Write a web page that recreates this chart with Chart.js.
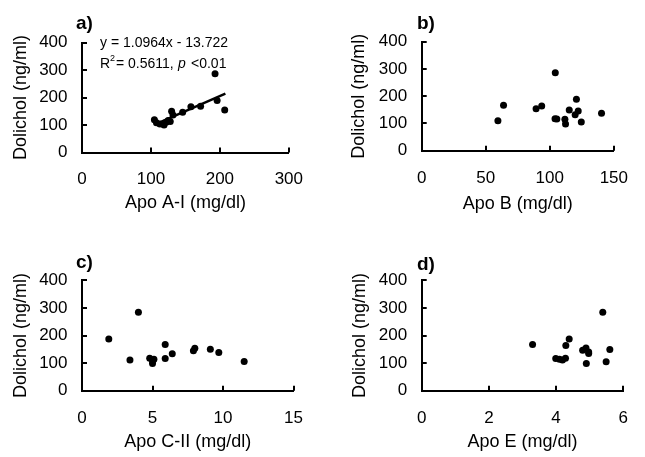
<!DOCTYPE html>
<html>
<head>
<meta charset="utf-8">
<script src="https://cdn.jsdelivr.net/npm/chart.js@4.4.0/dist/chart.umd.min.js"></script>
<style>
  body { margin: 0; background: #fff; }
  #wrap { position: relative; width: 645px; height: 457px; overflow: hidden; background: #fff; }
  canvas { position: absolute; }
</style>
</head>
<body>
<div id="wrap">
  <canvas id="pa" width="320" height="228" style="left:0px;top:0px"></canvas>
  <canvas id="pb" width="325" height="228" style="left:320px;top:0px"></canvas>
  <canvas id="pc" width="320" height="229" style="left:0px;top:228px"></canvas>
  <canvas id="pd" width="325" height="229" style="left:320px;top:228px"></canvas>
</div>
<script>
// values, one patient per index
const apoA1 = [105, 108, 113, 119, 122, 125, 128, 130, 132, 146, 158, 172, 193, 196, 207];
const dolA  = [119, 108, 104, 100, 110, 116, 113, 150, 136, 146, 166, 168, 286, 189, 155];
const trendX = [107, 208];
const trendY = [103, 214];

const apoB = [59.5, 63.9, 89.3, 93.7, 104.3, 104.1, 105.5, 111.8, 112.3, 115.2, 120.8, 122.2, 119.8, 124.6, 140.4];
const dolB = [110, 167, 154, 164, 286, 117, 116, 115, 98, 149, 189, 146, 132, 105, 137];

const apoC2 = [4.0, 1.9, 3.4, 4.8, 5.1, 5.0, 5.0, 5.9, 5.9, 6.4, 7.9, 8.0, 9.1, 9.7, 11.5];
const dolC  = [284, 187, 111, 118, 114, 99, 108, 167, 117, 134, 145, 154, 150, 138, 106];

const apoE = [5.39, 3.30, 4.39, 4.29, 3.99, 4.10, 4.19, 4.28, 4.79, 4.89, 4.97, 4.90, 5.60, 5.49, 4.97];
const dolE = [284, 167, 187, 164, 117, 114, 111, 118, 147, 155, 135, 99, 149, 105, 140];

const yTitle = 'Dolichol (ng/ml)';
const FONT = "'Liberation Sans', Arial, Helvetica, sans-serif";

// little inward tick marks on both axes
const inwardTicks = {
  id: 'inwardTicks',
  afterDraw(chart) {
    const { ctx, chartArea } = chart;
    const sx = chart.scales.x, sy = chart.scales.y;
    ctx.save();
    ctx.strokeStyle = '#000';
    ctx.lineWidth = 2;
    ctx.beginPath();
    sx.ticks.forEach(t => {
      if (t.value === sx.min) return;
      const px = Math.round(sx.getPixelForValue(t.value));
      ctx.moveTo(px, chartArea.bottom);
      ctx.lineTo(px, chartArea.bottom - 5);
    });
    sy.ticks.forEach(t => {
      if (t.value === sy.min) return;
      const py = Math.round(sy.getPixelForValue(t.value));
      ctx.moveTo(chartArea.left, py);
      ctx.lineTo(chartArea.left + 5, py);
    });
    ctx.stroke();
    ctx.restore();
  }
};

// panel letters and the equation text
const notes = {
  id: 'notes',
  afterDraw(chart, args, opts) {
    const ctx = chart.ctx;
    ctx.save();
    ctx.fillStyle = '#000';
    ctx.textBaseline = 'alphabetic';
    ctx.font = 'bold 19px ' + FONT;
    ctx.fillText(opts.letter, opts.lx, opts.ly);
    if (opts.eq) {
      ctx.font = '14px ' + FONT;
      ctx.fillText('y = 1.0964x - 13.722', 100, 47);
      ctx.fillText('R', 100, 67.5);
      ctx.font = '9px ' + FONT;
      ctx.fillText('2', 110, 61);
      ctx.font = '14px ' + FONT;
      ctx.fillText('= 0.5611,', 116, 67.5);
      ctx.font = 'italic 14px ' + FONT;
      ctx.fillText('p', 178, 67.5);
      ctx.font = '14px ' + FONT;
      ctx.fillText('<0.01', 191, 67.5);
    }
    ctx.restore();
  }
};

function makePanel(id, xs, ys, p) {
  const pts = xs.map((v, i) => ({ x: v, y: ys[i] }));
  const datasets = [{
    data: pts,
    backgroundColor: '#000',
    borderColor: '#000',
    pointRadius: 3.5,
    pointHoverRadius: 3.5,
    borderWidth: 0
  }];
  if (p.trend) {
    datasets.push({
      data: p.trend[0].map((v, i) => ({ x: v, y: p.trend[1][i] })),
      showLine: true,
      borderColor: '#000',
      borderWidth: 2.5,
      pointRadius: 0
    });
  }
  return new Chart(document.getElementById(id), {
    type: 'scatter',
    data: { datasets },
    options: {
      responsive: false,
      animation: false,
      events: [],
      layout: { autoPadding: false, padding: { left: 0, top: p.top, right: p.right, bottom: 0 } },
      plugins: {
        legend: { display: false },
        tooltip: { enabled: false },
        notes: { letter: p.letter, lx: p.lx, ly: p.ly, eq: !!p.trend }
      },
      scales: {
        x: {
          type: 'linear',
          min: 0, max: p.xmax,
          grid: { display: false, drawTicks: false },
          border: { display: true, color: '#000', width: 2 },
          ticks: { stepSize: p.xstep, color: '#000', font: { family: FONT, size: 17 }, padding: 17, maxRotation: 0 },
          title: { display: true, text: p.xTitle, color: '#000', font: { family: FONT, size: 18 }, padding: { top: 0, bottom: p.xtPad } },
          afterFit(s) { s.height = p.xh; }
        },
        y: {
          type: 'linear',
          min: 0, max: 400,
          grid: { display: false, drawTicks: false },
          border: { display: true, color: '#000', width: 2 },
          ticks: { stepSize: 100, color: '#000', font: { family: FONT, size: 17 }, padding: 14.5 },
          title: { display: true, text: yTitle, color: '#000', font: { family: FONT, size: 18 }, padding: { top: p.ytPad, bottom: 0 } },
          afterFit(s) { s.width = p.left; }
        }
      }
    },
    plugins: [inwardTicks, notes]
  });
}

makePanel('pa', apoA1, dolA, {
  left: 82, top: 42.5, right: 31, xh: 75.5,
  xmax: 300, xstep: 100, xTitle: 'Apo A-I (mg/dl)',
  xtPad: 14, ytPad: 10, letter: 'a)', lx: 76, ly: 29,
  trend: [trendX, trendY]
});
makePanel('pb', apoB, dolB, {
  left: 101.7, top: 41.7, right: 16.7, xh: 77.3,
  xmax: 150, xstep: 50, xTitle: 'Apo B (mg/dl)',
  xtPad: 13.5, ytPad: 28.5, letter: 'b)', lx: 97, ly: 29
});
makePanel('pc', apoC2, dolC, {
  left: 82, top: 52.3, right: 26, xh: 66.3,
  xmax: 15, xstep: 5, xTitle: 'Apo C-II (mg/dl)',
  xtPad: 4.2, ytPad: 10, letter: 'c)', lx: 76, ly: 40
});
makePanel('pd', apoE, dolE, {
  left: 101.7, top: 52.3, right: 6, xh: 66.3,
  xmax: 6, xstep: 2, xTitle: 'Apo E (mg/dl)',
  xtPad: 4.2, ytPad: 29, letter: 'd)', lx: 97, ly: 41.5
});
</script>
</body>
</html>
